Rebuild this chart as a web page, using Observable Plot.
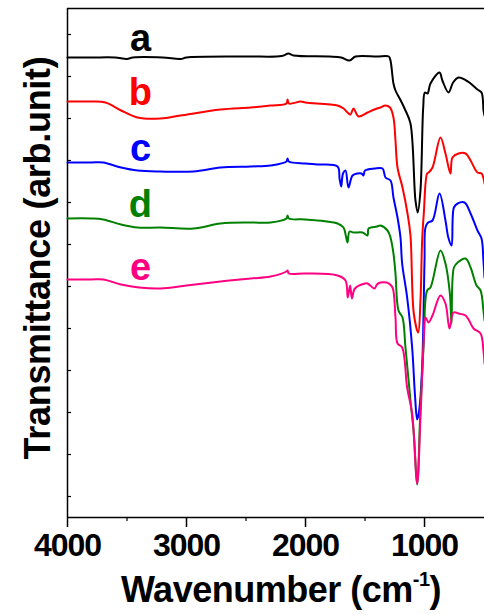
<!DOCTYPE html>
<html><head><meta charset="utf-8">
<script src="https://cdn.jsdelivr.net/npm/d3@7"></script>
<script src="https://cdn.jsdelivr.net/npm/@observablehq/plot@0.6"></script>
<style>
body{margin:0;background:#fff;overflow:hidden}
svg{display:block}
g[aria-label="x-axis tick label"] text{letter-spacing:-1px}
</style>
</head><body><div id="chart"></div>
<script>
const seriesNames = ["a","b","c","d","e"];
const seriesColors = ["#000000","#ff0000","#0000ff","#008000","#ff0080"];

const wnA = [4000,3800,3600,3500,3450,3200,3050,3000,2500,2200,2143,2100,1800,1700,1630,1580,1400,1300,1286,1261,1244,1200,1160,1118,1076,1057,1034,1011,997,975,950,874,850,798,760,714,650,613,555,521,504,496];
const tA = [46.0,46.0,46.0,45.85,46.0,46.0,45.85,46.0,46.1,46.15,46.4,46.2,46.1,46.0,45.7,46.1,46.1,46.1,45.7,43.4,42.7,41.7,40.7,39.4,31.7,30.5,32.7,41.0,42.5,42.4,43.4,44.5,43.7,42.5,43.5,44.0,43.7,43.4,42.8,42.5,40.7,40.2];

const wnB = [4000,3800,3680,3550,3412,3218,3050,2714,2460,2294,2160,2151,2140,2040,2000,1731,1680,1647,1622,1597,1555,1479,1400,1370,1330,1290,1261,1244,1227,1185,1143,1118,1090,1053,1034,1020,1006,978,965,933,866,824,782,765,714,655,613,555,521,496];
const tB = [41.6,41.6,41.5,40.7,40.0,39.9,40.2,40.8,41.0,41.2,41.4,41.8,41.4,41.6,41.5,41.2,40.9,40.5,40.3,40.9,40.1,40.5,40.9,41.0,41.2,41.0,40.0,37.7,35.0,33.0,30.4,28.2,20.4,18.5,21.7,27.7,30.4,34.4,34.5,35.0,38.0,36.4,34.4,36.0,36.4,36.4,35.7,34.5,34.4,33.4];

const wnC = [4000,3800,3700,3550,3412,3218,2941,2714,2460,2294,2160,2151,2140,2000,1900,1731,1714,1700,1685,1664,1639,1605,1563,1530,1513,1500,1420,1353,1328,1286,1261,1227,1202,1188,1146,1104,1080,1062,1045,1020,1000,992,970,933,874,824,800,773,753,722,664,613,555,521,505,496];
const tC = [35.5,35.5,35.5,35.0,34.7,34.6,34.6,35.0,35.1,35.2,35.6,35.9,35.6,35.4,35.3,35.1,33.9,33.1,34.4,34.7,33.0,34.2,34.4,34.4,34.2,34.7,34.9,34.9,34.0,33.7,32.0,30.0,28.0,25.4,22.0,17.0,12.2,9.8,10.7,15.0,25.7,29.0,29.5,29.7,32.4,29.7,28.0,27.2,31.0,31.4,31.5,30.4,28.7,27.9,25.7,24.0];

const wnD = [4000,3800,3700,3550,3412,3218,2941,2714,2460,2294,2160,2151,2140,2000,1731,1681,1660,1647,1630,1597,1520,1479,1470,1400,1370,1311,1286,1261,1244,1219,1185,1160,1118,1090,1062,1034,1006,978,950,866,824,787,773,753,722,655,613,563,529,505,496];
const tD = [29.9,29.9,29.8,29.3,29.0,29.0,28.9,29.4,29.5,29.5,29.9,30.2,29.9,29.8,29.4,29.0,28.1,27.5,28.6,28.5,28.5,28.2,28.9,29.1,29.2,28.7,28.0,26.4,24.4,20.7,20.0,17.0,11.7,8.4,3.3,11.0,17.7,22.7,23.0,26.7,25.4,22.4,19.4,25.0,25.5,25.9,25.0,23.2,22.7,20.7,19.7];

const wnE = [4000,3800,3700,3550,3400,3218,3000,2714,2460,2294,2160,2151,2140,2000,1731,1664,1645,1625,1610,1585,1500,1479,1420,1400,1370,1320,1300,1269,1244,1227,1188,1146,1104,1062,1034,1008,992,966,933,866,824,790,756,714,655,630,588,529,505,496];
const tE = [23.8,23.8,23.8,23.3,23.0,22.9,23.2,23.6,23.9,24.1,24.6,24.7,24.4,24.4,24.2,23.7,22.0,23.2,21.9,22.9,23.4,23.4,22.9,23.3,23.5,23.5,23.4,23.0,20.0,17.4,17.0,13.0,10.4,3.4,10.0,17.4,20.0,19.5,20.2,22.2,21.4,18.9,20.5,20.4,20.2,19.8,18.9,18.4,16.7,15.4];

const xTicks = [4000,3000,2000,1000];
const xMinorTicks = [3500,2500,1500];
const yTicks = [2.1,6.3,10.5,14.7,18.9,23.1,27.3,31.5,35.7,39.9,44.1,48.3];
const xDomain = [4000,496];
const yDomain = [0,50.9];
const labelWn = 3387;
const labelT = [47.9,42.45,36.9,31.25,25.0];

const wns = [wnA,wnB,wnC,wnD,wnE];
const ts = [tA,tB,tC,tD,tE];

const marks = [
  Plot.ruleY([yDomain[0]], {strokeWidth: 1.5}),
  Plot.ruleY([yDomain[1]], {strokeWidth: 1.5}),
  Plot.ruleX([xDomain[0]], {strokeWidth: 1.5}),
  Plot.axisX({ticks: xTicks, tickSize: 10, tickPadding: 6, fontSize: 32, fontWeight: "bold", label: null, strokeWidth: 1.5, tickFormat: d => String(d)}),
  Plot.axisX({ticks: xMinorTicks, tickSize: 4, tickFormat: () => "", label: null, strokeWidth: 1.2}),
  Plot.axisY({ticks: yTicks, tickSize: 4, dx: 4, tickFormat: () => "", label: null, strokeWidth: 1.2})
];
seriesNames.forEach((name, i) => {
  const rows = wns[i].map((w, j) => ({wn: w, t: ts[i][j]}));
  marks.push(Plot.line(rows, {x: "wn", y: "t", stroke: seriesColors[i], strokeWidth: 2, curve: "catmull-rom"}));
});
seriesNames.forEach((name, i) => {
  marks.push(Plot.text([{wn: labelWn, t: labelT[i], s: name}], {x: "wn", y: "t", text: "s", fill: seriesColors[i], fontSize: 38, fontWeight: "bold"}));
});

const plot = Plot.plot({
  width: 484,
  height: 615,
  marginLeft: 67,
  marginRight: 0,
  marginTop: 8,
  marginBottom: 98,
  style: {fontFamily: "'Liberation Sans', Arial, sans-serif", background: "#fff", color: "#000"},
  x: {domain: xDomain},
  y: {domain: yDomain},
  marks
});

const svg = d3.select(plot);
const xl = svg.append("text")
  .attr("x", 281).attr("y", 602)
  .attr("text-anchor", "middle")
  .attr("font-size", 36).attr("font-weight", "bold")
  .attr("letter-spacing", "-0.5px")
  .attr("fill", "#000");
xl.append("tspan").text("Wavenumber (cm");
xl.append("tspan").attr("font-size", 20).attr("dy", -16).text("-1");
xl.append("tspan").attr("dy", 16).text(")");

svg.append("text")
  .attr("transform", "translate(50,258) rotate(-90)")
  .attr("text-anchor", "middle")
  .attr("font-size", 36).attr("font-weight", "bold")
  .attr("letter-spacing", "-0.3px")
  .attr("fill", "#000")
  .text("Transmittance (arb.unit)");

document.getElementById("chart").appendChild(plot);
</script>
</body></html>
